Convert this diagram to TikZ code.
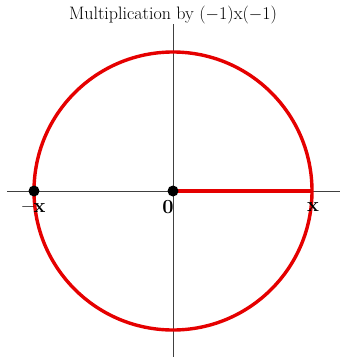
\documentclass[tikz,border=0pt]{standalone}
\begin{document}
\begin{tikzpicture}[x=1pt,y=-1pt,
  axis/.style={draw=black!75,line width=0.9pt},
  redline/.style={draw=red!90!black,line width=3.4pt},
  dot/.style={circle,fill=black,inner sep=0pt,minimum size=11pt},
  lbl/.style={font=\fontsize{20}{22}\selectfont\bfseries,inner sep=0pt}]
\useasboundingbox (0,0) rectangle (340,357);
\coordinate (O) at (173,191);
\coordinate (L) at (7,191);
\coordinate (R) at (340,191);
\coordinate (T) at (173,24);
\coordinate (B) at (173,357);
\draw[axis] (L) -- (R);
\draw[axis] (T) -- (B);
\draw[redline] (O) circle[radius=139];
\coordinate (P) at (312,191);
\draw[redline] (O) -- (P);
\node[dot] (d0) at (O) {};
\node[dot] (dm) at (34,191) {};
\node[lbl] (l0) at (168,207) {0};
\node[lbl] (lm) at (34,208) {--x};
\node[lbl] (lx) at (313,207) {x};
\node[font=\fontsize{18}{20}\selectfont,inner sep=0pt] (title) at (173,15) {Multiplication by ($-$1)x($-$1)};
\end{tikzpicture}
\end{document}
